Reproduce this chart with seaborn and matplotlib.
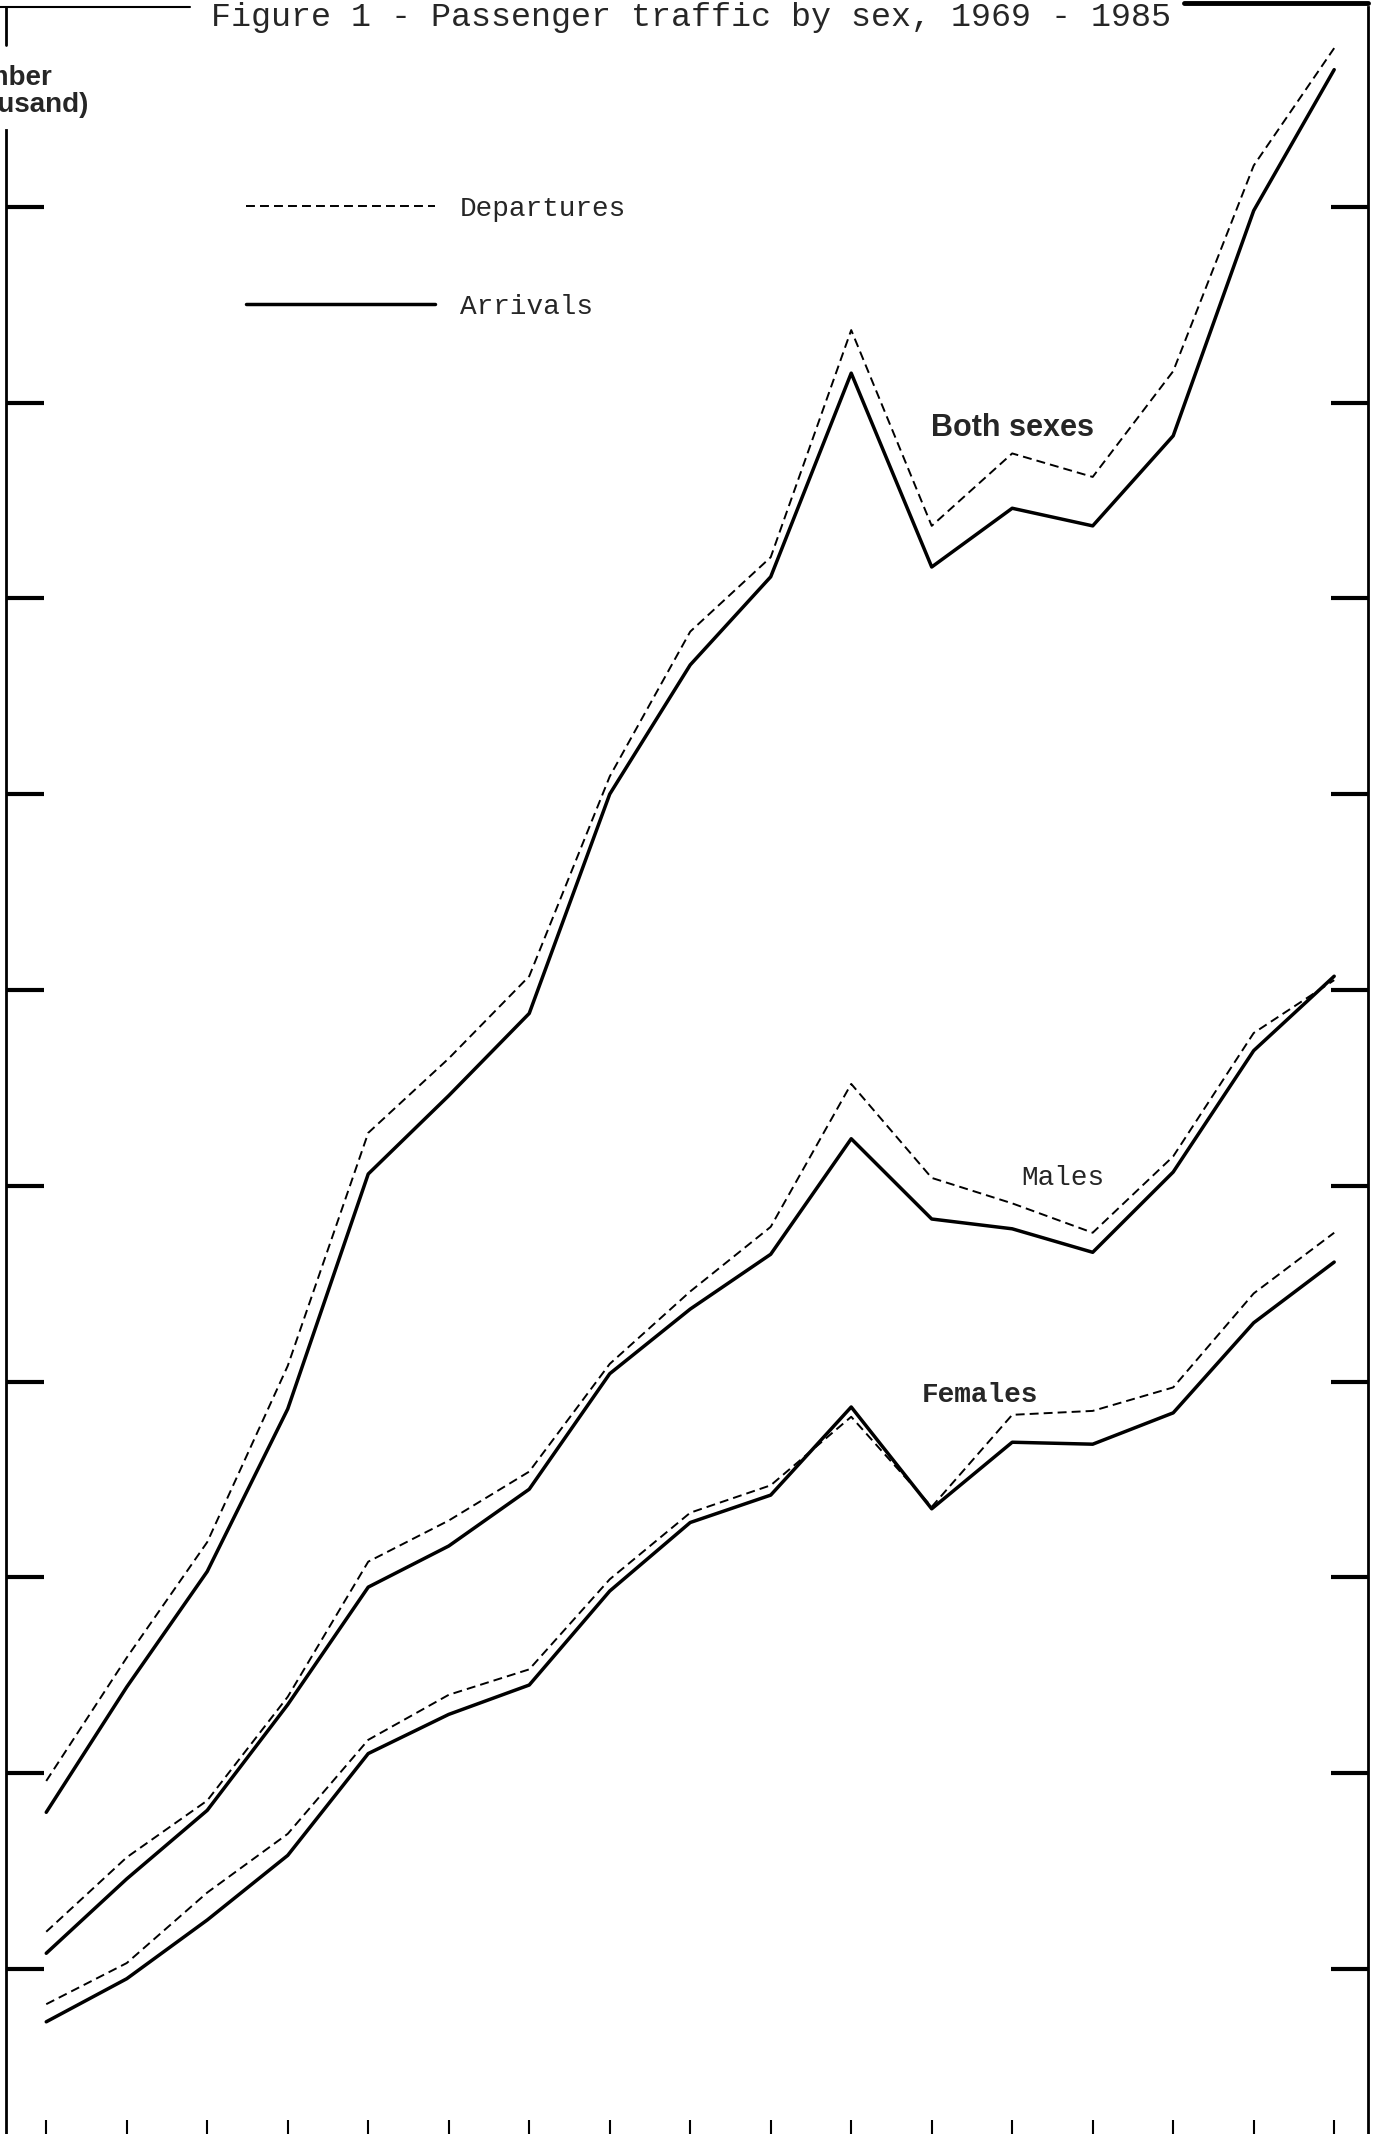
import numpy as np
import pandas as pd
import matplotlib.pyplot as plt
import seaborn as sns
from matplotlib.lines import Line2D

# passenger traffic (units: axis ticks = 100 .. 1000)
years = list(range(1969, 1986))
both_dep = [196, 259, 318, 408, 527, 565, 607, 709, 783, 821, 937, 837, 874, 862, 916, 1021, 1081]
both_arr = [180, 244, 303, 386, 506, 546, 588, 700, 766, 811, 915, 816, 846, 837, 883, 998, 1070]
male_dep = [119, 157, 186, 239, 308, 329, 354, 409, 446, 479, 552, 504, 491, 476, 515, 578, 605]
male_arr = [108, 146, 181, 235, 295, 316, 345, 404, 437, 465, 524, 483, 478, 466, 507, 569, 607]
fem_dep = [82, 103, 139, 169, 217, 240, 253, 299, 333, 347, 382, 336, 383, 385, 397, 445, 476]
fem_arr = [73, 95, 125, 158, 210, 230, 245, 293, 328, 342, 387, 335, 369, 368, 384, 430, 461]
yticks = list(range(100, 1001, 100))

rows = []
for sex, dep, arr in [("Both sexes", both_dep, both_arr),
                      ("Males", male_dep, male_arr),
                      ("Females", fem_dep, fem_arr)]:
    for y, d, a in zip(years, dep, arr):
        rows.append((y, sex, "Departures", d))
        rows.append((y, sex, "Arrivals", a))
df = pd.DataFrame(rows, columns=["year", "sex", "direction", "value"])

sns.set_style("white")
plt.rcParams["font.family"] = ["Liberation Mono", "DejaVu Sans Mono"]

W, H = 1374, 2134
fig = plt.figure(figsize=(W / 100, H / 100), dpi=100)
ax = fig.add_axes([6 / W, 0, 1362 / W, 2127 / H])

sns.lineplot(data=df, x="year", y="value", units="sex", estimator=None,
             style="direction", dashes={"Arrivals": "", "Departures": (4.6, 2.6)},
             size="direction", sizes={"Arrivals": 2.5, "Departures": 1.4},
             color="black", legend=False, ax=ax)

ax.set_xlim(1968.5, 1985.42)
ax.set_ylim(15.7, 1102)
ax.set_xticks(years)
ax.set_yticks(yticks)
ax.set_xticklabels([])
ax.set_yticklabels([])
ax.set_xlabel("")
ax.set_ylabel("")

for s in ["top", "bottom"]:
    ax.spines[s].set_visible(False)
for s in ["left", "right"]:
    ax.spines[s].set_color("black")
    ax.spines[s].set_linewidth(2)
ax.spines["left"].set_bounds(15.7, 1039)

ax.tick_params(axis="y", which="major", direction="in", left=True, right=True,
               length=27, width=3, color="black")
ax.tick_params(axis="x", which="major", direction="in", bottom=True,
               length=10, width=1.5, color="black")

# broken frame at the top, like the original scan
ax.plot([-0.01, 0.135], [1.0, 1.0], transform=ax.transAxes, color="black",
        lw=1.5, clip_on=False)
ax.plot([0.0, 0.0], [1.0, 0.982], transform=ax.transAxes, color="black",
        lw=2, clip_on=False)
ax.plot([0.865, 1.0], [1.002, 1.002], transform=ax.transAxes, color="black",
        lw=3.5, clip_on=False)

fig.text(211 / W, 1 - 26 / H, "Figure 1 - Passenger traffic by sex, 1969 - 1985",
         ha="left", va="baseline", fontsize=24, family="Liberation Mono")

fig.text(52 / W, 1 - 85 / H, "Number", ha="right", va="baseline",
         fontsize=20, fontweight="bold", family="Liberation Sans")
fig.text(89 / W, 1 - 112 / H, "(thousand)", ha="right", va="baseline",
         fontsize=20, fontweight="bold", family="Liberation Sans")

handles = [Line2D([], [], color="black", lw=1.4, dashes=(4.6, 2.6)),
           Line2D([], [], color="black", lw=2.5)]
ax.legend(handles, ["Departures", "Arrivals"], loc="upper left",
          bbox_to_anchor=(246 / W, 1 - 196 / H), bbox_transform=fig.transFigure,
          frameon=False, prop={"family": "Liberation Mono", "size": 20},
          handlelength=6.8, handletextpad=0.9, labelspacing=2.6,
          borderpad=0, borderaxespad=0)

ax.text(1981.0, 887, "Both sexes", ha="center", va="center", fontsize=22,
        fontweight="bold", family="Liberation Sans")
ax.text(1981.63, 504, "Males", ha="center", va="center", fontsize=20,
        family="Liberation Mono")
ax.text(1980.6, 393, "Females", ha="center", va="center", fontsize=20,
        fontweight="bold", family="Liberation Mono")

fig.savefig("out.png", dpi=100)
